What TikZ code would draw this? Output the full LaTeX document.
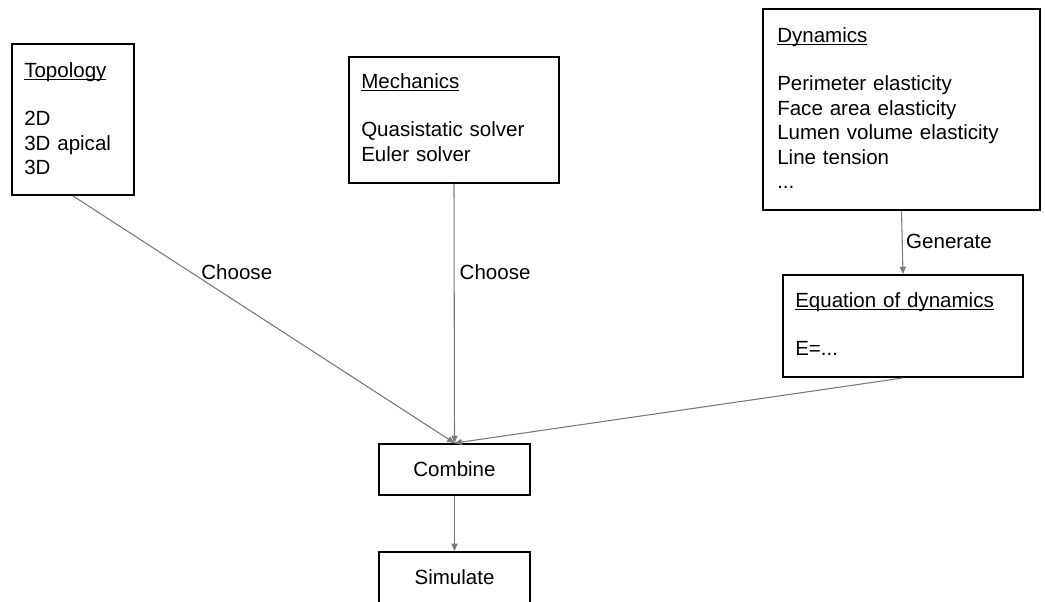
\documentclass[tikz,border=0pt]{standalone}
\usepackage{fontspec}
\setmainfont{Liberation Sans}
\usetikzlibrary{arrows.meta}
\newcommand\ulin[1]{\setbox0\hbox{#1}\rlap{\rule[-2.1pt]{\wd0}{0.9pt}}#1}
\tikzset{
  boxnode/.style={draw=black, line width=1.4pt, rectangle, inner sep=0pt, fill=white},
  txt/.style={anchor=base west, inner sep=0pt, align=left, text width=200pt,
              font=\fontsize{15.4}{18.3}\selectfont},
  ctxt/.style={inner sep=0pt, font=\fontsize{15.4}{18.3}\selectfont},
  conn/.style={draw=black!52, line width=0.8pt, -{Triangle[length=5.5pt,width=4.5pt]}},
  lbl/.style={anchor=west, inner sep=0pt, text=black, font=\fontsize{15.4}{18.3}\selectfont}
}
\begin{document}
\begin{tikzpicture}[x=0.75pt, y=-0.75pt]
\useasboundingbox (0,0) rectangle (1045,601);
\clip (0,0) rectangle (1045,601);
\fill[white] (0,0) rectangle (1045,601);

% boxes
\node[boxnode, minimum width=91.5pt, minimum height=113.25pt] (topo) at (73,119.5) {};
\node[boxnode, minimum width=157.5pt, minimum height=94.5pt] (mech) at (454,120) {};
\node[boxnode, minimum width=207.75pt, minimum height=150.75pt] (dyn) at (901.5,109.5) {};
\node[boxnode, minimum width=180pt, minimum height=76.5pt] (eq) at (903,326) {};
\node[boxnode, minimum width=113.25pt, minimum height=38.25pt] (comb) at (454.5,469.5) {};
\node[boxnode, minimum width=113.25pt, minimum height=38.25pt] (sim) at (454.5,577.5) {};

% box texts
\node[txt] (topoT) at (24,77) {\ulin{Topology}\\[18.3pt]2D\\3D apical\\3D};
\node[txt] (mechT) at (361,88) {\ulin{Mechanics}\\[18.3pt]Quasistatic solver\\Euler solver};
\node[txt] (dynT) at (777,42) {\ulin{Dynamics}\\[18.3pt]Perimeter elasticity\\Face area elasticity\\Lumen volume elasticity\\Line tension\\...};
\node[txt] (eqT) at (795,307) {\ulin{Equation of dynamics}\\[18.3pt]E=...};
\node[ctxt] (combT) at (comb.center) {Combine};
\node[ctxt] (simT) at (sim.center) {Simulate};

% connectors
\draw[conn] (topo.south) -- node[lbl, pos=0.309, xshift=7.5pt] (l1) {Choose} (comb.north);
\draw[conn] (mech.south) -- node[lbl, pos=0.341, xshift=3.75pt] (l2) {Choose} (comb.north);
\draw[conn] (eq.south) -- (comb.north);
\draw[conn] (dyn.south) -- node[lbl, pos=0.477, xshift=2.6pt] (l3) {Generate} (eq.north);
\draw[conn] (comb.south) -- (sim.north);
\end{tikzpicture}
\end{document}
